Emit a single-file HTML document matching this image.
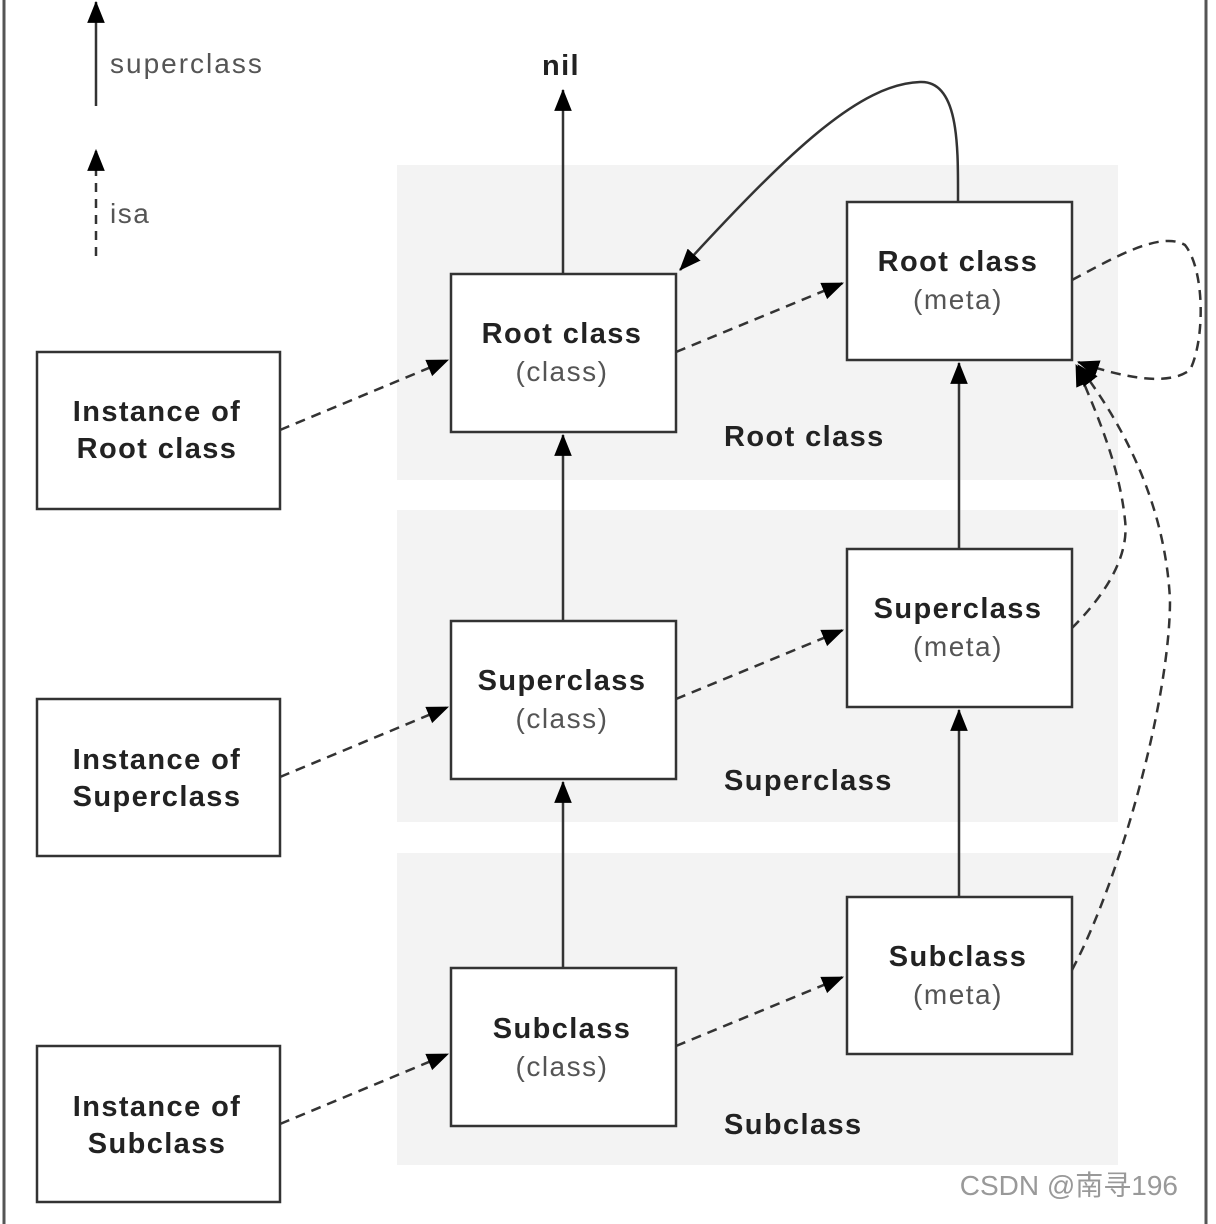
<!DOCTYPE html>
<html><head><style>
html,body{margin:0;padding:0;background:#fff;}
svg{display:block;}
text{font-family:"Liberation Sans","Noto Sans CJK SC",sans-serif;}
.b{font-weight:bold;font-size:29px;fill:#222;letter-spacing:1.4px;}
.n{font-size:28px;fill:#555;letter-spacing:1.5px;}
</style></head><body>
<svg width="1216" height="1224" viewBox="0 0 1216 1224" xmlns="http://www.w3.org/2000/svg">
<defs>
<marker id="a" viewBox="0 0 20 20" refX="19" refY="10" markerWidth="22" markerHeight="22" markerUnits="userSpaceOnUse" orient="auto"><path d="M0,2 L20,10 L0,18 Z" fill="#000"/></marker>
</defs>
<line x1="4" y1="0" x2="4" y2="1224" stroke="#555" stroke-width="3"/>
<line x1="1206" y1="0" x2="1206" y2="1224" stroke="#555" stroke-width="3"/>
<rect x="397" y="165" width="721" height="315" fill="#f3f3f3"/>
<rect x="397" y="510" width="721" height="312" fill="#f3f3f3"/>
<rect x="397" y="853" width="721" height="312" fill="#f3f3f3"/>
<line x1="96" y1="106" x2="96" y2="2" stroke="#333" stroke-width="2.5" marker-end="url(#a)"/>
<text x="110" y="73" class="n" style="letter-spacing:2px">superclass</text>
<line x1="96" y1="256" x2="96" y2="150" stroke="#333" stroke-width="2.5" stroke-dasharray="9,7" marker-end="url(#a)"/>
<text x="110" y="223" class="n">isa</text>
<text x="561" y="75" class="b" text-anchor="middle">nil</text>
<g fill="#fff" stroke="#333" stroke-width="2.5">
<rect x="37" y="352" width="243" height="157"/>
<rect x="37" y="699" width="243" height="157"/>
<rect x="37" y="1046" width="243" height="156"/>
<rect x="451" y="274" width="225" height="158"/>
<rect x="451" y="621" width="225" height="158"/>
<rect x="451" y="968" width="225" height="158"/>
<rect x="847" y="202" width="225" height="158"/>
<rect x="847" y="549" width="225" height="158"/>
<rect x="847" y="897" width="225" height="157"/>
</g>
<g text-anchor="middle">
<text x="157" y="421" class="b">Instance of</text><text x="157" y="458" class="b">Root class</text>
<text x="157" y="769" class="b">Instance of</text><text x="157" y="806" class="b">Superclass</text>
<text x="157" y="1116" class="b">Instance of</text><text x="157" y="1153" class="b">Subclass</text>
<text x="562" y="343" class="b">Root class</text><text x="562" y="381" class="n">(class)</text>
<text x="562" y="690" class="b">Superclass</text><text x="562" y="728" class="n">(class)</text>
<text x="562" y="1038" class="b">Subclass</text><text x="562" y="1076" class="n">(class)</text>
<text x="958" y="271" class="b">Root class</text><text x="958" y="309" class="n">(meta)</text>
<text x="958" y="618" class="b">Superclass</text><text x="958" y="656" class="n">(meta)</text>
<text x="958" y="966" class="b">Subclass</text><text x="958" y="1004" class="n">(meta)</text>
</g>
<text x="724" y="446" class="b">Root class</text>
<text x="724" y="790" class="b">Superclass</text>
<text x="724" y="1134" class="b">Subclass</text>
<g stroke="#333" stroke-width="2.5" fill="none" marker-end="url(#a)">
<line x1="563" y1="274" x2="563" y2="90"/>
<line x1="563" y1="621" x2="563" y2="435"/>
<line x1="563" y1="968" x2="563" y2="782"/>
<line x1="959" y1="549" x2="959" y2="363"/>
<line x1="959" y1="897" x2="959" y2="710"/>
<path d="M958,202 C958,150 960,80 920,82 C860,84 790,150 680,270"/>
</g>
<g stroke="#333" stroke-width="2.5" fill="none" stroke-dasharray="10,7" marker-end="url(#a)">
<line x1="280" y1="430" x2="448" y2="360"/>
<line x1="280" y1="777" x2="448" y2="707"/>
<line x1="280" y1="1124" x2="448" y2="1054"/>
<line x1="676" y1="352" x2="843" y2="283"/>
<line x1="676" y1="699" x2="843" y2="630"/>
<line x1="676" y1="1046" x2="843" y2="977"/>
<path d="M1072,280 C1110,260 1160,230 1185,245 C1205,270 1205,340 1190,370 C1170,385 1130,380 1078,362"/>
<path d="M1072,628 C1100,600 1130,560 1125,520 C1120,470 1100,420 1076,365"/>
<path d="M1072,970 C1120,880 1170,700 1170,600 C1165,500 1120,420 1078,365"/>
</g>
<text x="1178" y="1195" text-anchor="end" style="font-size:28px;fill:#999;font-family:'Liberation Sans','Noto Sans CJK SC',sans-serif">CSDN @南寻196</text>
</svg>
</body></html>
